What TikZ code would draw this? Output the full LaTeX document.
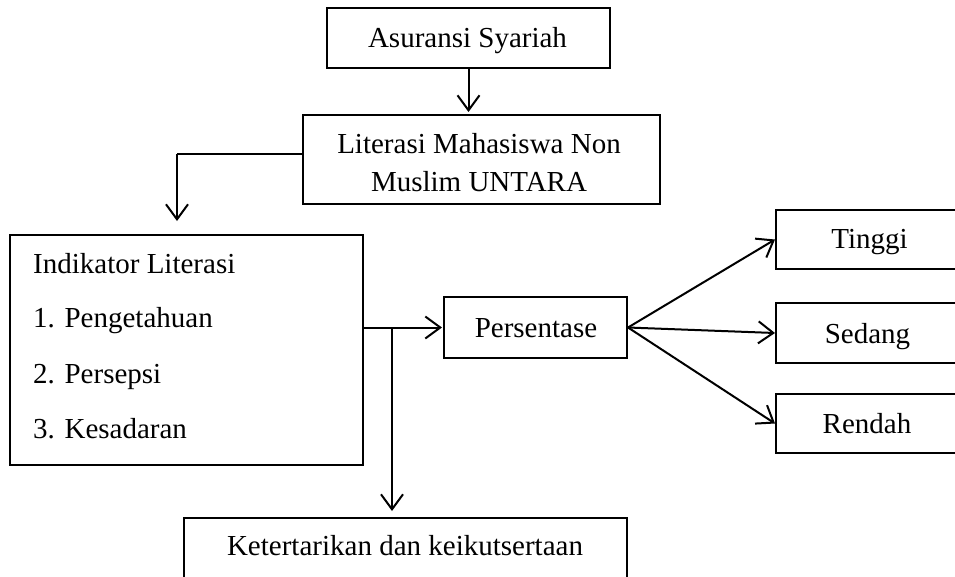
\documentclass[tikz,border=0pt]{standalone}
\usepackage{fontspec}
\setmainfont{Liberation Serif}
\usetikzlibrary{arrows.meta}
\begin{document}
\begin{tikzpicture}[x=1pt,y=-1pt,
  box/.style={draw=black,line width=2pt,rectangle,inner sep=0pt},
  txt/.style={inner sep=0pt,font=\fontsize{29}{35}\selectfont},
  conn/.style={line width=2pt,-{Straight Barb[length=15pt,width=22pt]}},
  plain/.style={line width=2pt}]
\useasboundingbox (0,0) rectangle (955,576);
\fill[white] (0,0) rectangle (955,576);
% boxes
\node[box,minimum width=283pt,minimum height=60pt] (asur) at (468.5,38) {};
\node[box,minimum width=357pt,minimum height=89pt] (lit) at (481.5,159.5) {};
\node[box,minimum width=353pt,minimum height=230pt] (ind) at (186.5,350) {};
\node[box,minimum width=183pt,minimum height=61pt] (per) at (535.5,327.5) {};
\node[box,minimum width=182pt,minimum height=59pt] (tin) at (867,239.5) {};
\node[box,minimum width=182pt,minimum height=60pt] (sed) at (867,333) {};
\node[box,minimum width=182pt,minimum height=59pt] (ren) at (867,423.5) {};
\node[box,minimum width=443pt,minimum height=64pt] (ket) at (405.5,550) {};
% texts
\node[txt,anchor=base] (tasur) at (467.5,47) {Asuransi Syariah};
\node[txt,anchor=base] (tlit1) at (479,153) {Literasi Mahasiswa Non};
\node[txt,anchor=base] (tlit2) at (479,191) {Muslim UNTARA};
\node[txt,anchor=base west] (tind0) at (33,273) {Indikator Literasi};
\node[txt,anchor=base west] (tind1) at (33,327) {1. Pengetahuan};
\node[txt,anchor=base west] (tind2) at (33,383) {2. Persepsi};
\node[txt,anchor=base west] (tind3) at (33,438) {3. Kesadaran};
\node[txt,anchor=base] (tper) at (536,337) {Persentase};
\node[txt,anchor=base] (ttin) at (869.5,248) {Tinggi};
\node[txt,anchor=base] (tsed) at (867.5,343) {Sedang};
\node[txt,anchor=base] (tren) at (867,433) {Rendah};
\node[txt,anchor=base] (tket) at (405,555) {Ketertarikan dan keikutsertaan};
% connectors
\coordinate (c1) at (177,154);
\coordinate (c2) at (392,328);
\draw[conn,shorten >=2pt] (asur.south) -- (asur.south |- lit.north);
\draw[plain] ([yshift=5.5pt]lit.west) -- (c1);
\draw[conn,shorten >=13pt] (c1) -- (c1 |- ind.north);
\draw[conn,shorten >=1pt] (ind.east |- per.west) -- (per.west);
\draw[conn,shorten >=6pt] (c2) -- (c2 |- ket.north);
\draw[conn] (per.east) -- (tin.west);
\draw[conn] (per.east) -- (sed.west);
\draw[conn] (per.east) -- (ren.west);
\end{tikzpicture}
\end{document}
